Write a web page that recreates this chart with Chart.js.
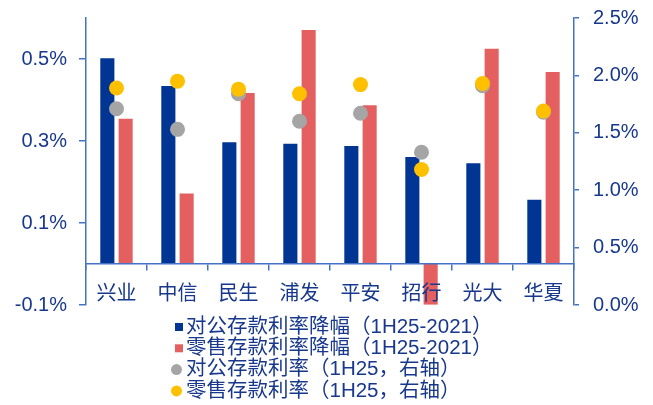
<!DOCTYPE html>
<html>
<head>
<meta charset="utf-8">
<script src="https://cdn.jsdelivr.net/npm/chart.js@4"></script>
<style>
  html, body { margin: 0; padding: 0; background: #fff; }
  #wrap { width: 653px; height: 405px; }
</style>
</head>
<body>
<div id="wrap"><canvas id="myChart"></canvas></div>
<script>
// Data (values in %)
const banks = ["兴业", "中信", "民生", "浦发", "平安", "招行", "光大", "华夏"];
const corpCut = [0.502, 0.434, 0.297, 0.293, 0.288, 0.261, 0.246, 0.157];
const retailCut = [0.354, 0.172, 0.417, 0.571, 0.387, -0.099, 0.525, 0.468];
const corpRate = [1.71, 1.53, 1.84, 1.60, 1.67, 1.33, 1.91, 1.68];
const retailRate = [1.89, 1.95, 1.88, 1.84, 1.92, 1.18, 1.93, 1.69];
const leftTicks = [-0.1, 0.1, 0.3, 0.5];
const rightTicks = [0, 0.5, 1.0, 1.5, 2.0, 2.5];
const seriesNames = [
  "对公存款利率降幅（1H25-2021）",
  "零售存款利率降幅（1H25-2021）",
  "对公存款利率（1H25，右轴）",
  "零售存款利率（1H25，右轴）",
];

const textColor = "#17388C";
const axisColor = "#4472C4";
const fontFamily = '"Liberation Sans", "Noto Sans CJK SC", sans-serif';

// Legend drawn as a vertical list under the plot
const listLegend = {
  id: "listLegend",
  afterDraw(chart) {
    const ctx = chart.ctx;
    const top = chart.chartArea.bottom + 22;
    ctx.save();
    ctx.font = "20.5px " + fontFamily;
    ctx.textBaseline = "middle";
    chart.data.datasets.forEach((ds, i) => {
      const y = top + i * 21.3;
      ctx.fillStyle = ds.backgroundColor;
      if (ds.type === "line") {
        ctx.beginPath();
        ctx.arc(176.5, y, 5.5, 0, Math.PI * 2);
        ctx.fill();
      } else {
        ctx.fillRect(175, y - 4, 8, 8);
      }
      ctx.fillStyle = textColor;
      ctx.fillText(ds.label, 186, y);
    });
    ctx.restore();
  },
};

const ctx = document.getElementById("myChart").getContext("2d");

const data = {
  labels: banks,
  datasets: [
    {
      label: seriesNames[0],
      data: corpCut,
      backgroundColor: "#003594",
      yAxisID: "y",
      order: 2,
      categoryPercentage: 0.6,
      barPercentage: 0.77,
    },
    {
      label: seriesNames[1],
      data: retailCut,
      backgroundColor: "#E45F5F",
      yAxisID: "y",
      order: 2,
      categoryPercentage: 0.6,
      barPercentage: 0.77,
    },
    {
      type: "line",
      label: seriesNames[2],
      data: corpRate,
      backgroundColor: "#A5A5A5",
      borderColor: "#A5A5A5",
      showLine: false,
      pointRadius: 7.5,
      pointBorderWidth: 0,
      yAxisID: "y1",
      order: 1,
    },
    {
      type: "line",
      label: seriesNames[3],
      data: retailRate,
      backgroundColor: "#FFC000",
      borderColor: "#FFC000",
      showLine: false,
      pointRadius: 7.5,
      pointBorderWidth: 0,
      yAxisID: "y1",
      order: 0,
    },
  ],
};

const tickFont = { family: fontFamily, size: 20 };

// fixed axis widths, and no extra label padding above/below the plot
function fixWidth(w) {
  return (scale) => {
    scale.width = w;
    scale.paddingTop = 0;
    scale.paddingBottom = 0;
  };
}

const config = {
  type: "bar",
  data: data,
  plugins: [listLegend],
  options: {
    responsive: true,
    maintainAspectRatio: false,
    animation: false,
    layout: { padding: { top: 18, bottom: 100, left: 0, right: 0 } },
    scales: {
      x: {
        position: { y: 0 },
        grid: {
          drawOnChartArea: false,
          drawTicks: true,
          tickLength: 6,
          color: axisColor,
          lineWidth: 1.5,
          offset: true,
          z: 1,
        },
        border: { color: axisColor, width: 1.5, z: 1 },
        ticks: { color: textColor, font: tickFont, padding: 12, maxRotation: 0, z: 1 },
      },
      y: {
        position: "left",
        min: -0.1,
        max: 0.6,
        afterBuildTicks: (scale) => {
          scale.ticks = leftTicks.map((v) => ({ value: v }));
        },
        afterFit: fixWidth(86),
        grid: { drawOnChartArea: false, tickLength: 7, color: axisColor, lineWidth: 1.5 },
        border: { color: axisColor, width: 1.5 },
        ticks: {
          color: textColor,
          font: tickFont,
          padding: 12,
          callback: (v) => v.toFixed(1) + "%",
        },
      },
      y1: {
        position: "right",
        min: 0,
        max: 2.5,
        afterBuildTicks: (scale) => {
          scale.ticks = rightTicks.map((v) => ({ value: v }));
        },
        afterFit: fixWidth(79),
        grid: { drawOnChartArea: false, tickLength: 5, color: axisColor, lineWidth: 1.5 },
        border: { color: axisColor, width: 1.5 },
        ticks: {
          color: textColor,
          font: tickFont,
          padding: 14,
          callback: (v) => v.toFixed(1) + "%",
        },
      },
    },
    plugins: {
      legend: { display: false },
      tooltip: { enabled: false },
    },
  },
};

const myChart = new Chart(ctx, config);
</script>
</body>
</html>
